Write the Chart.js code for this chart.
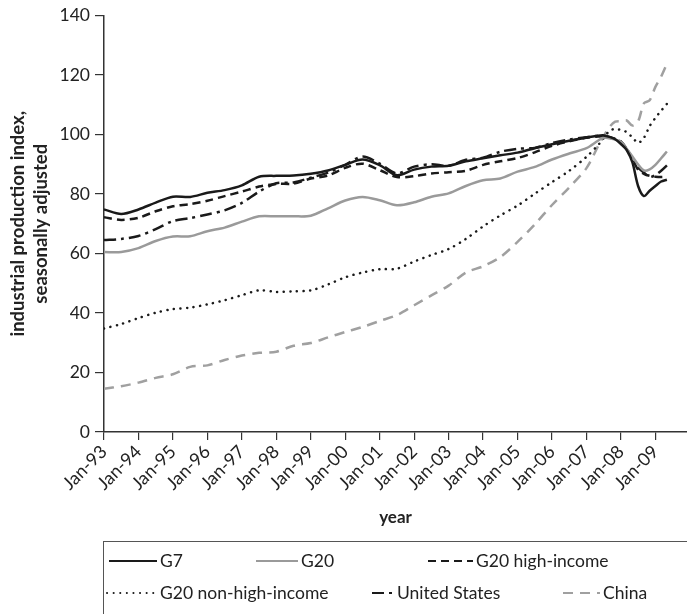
<!DOCTYPE html>
<html>
<head>
<meta charset="utf-8">
<script src="https://cdn.jsdelivr.net/npm/chart.js@4.4.1/dist/chart.umd.min.js"></script>
<style>
  body { margin: 0; background: #fff; }
  canvas { display: block; }
</style>
</head>
<body>
<canvas id="ipChart" width="687" height="614"></canvas>
<script>
// months since Jan-93
const months = [0, 6, 12, 18, 24, 30, 36, 42, 48, 54, 60, 66, 72, 78, 84, 90, 96, 102, 108, 114,
    120, 126, 132, 138, 144, 150, 156, 162, 168, 172, 174, 176, 178, 180, 182, 184, 186, 188,
    190, 192, 194, 196];

const g7 = [74.8, 73.3, 74.8, 77.1, 79.1, 79.0, 80.4, 81.3, 82.9, 85.8, 86.1, 86.2, 86.8, 87.9,
    89.8, 91.6, 89.7, 86.3, 88.2, 89.2, 89.5, 91.0, 92.0, 93.0, 93.9, 95.4, 96.7, 97.9, 99.0,
    99.6, 99.7, 99.2, 98.4, 96.8, 94.8, 90.6, 82.6, 79.3, 81.1, 82.7, 84.2, 84.8];

const g20 = [60.5, 60.5, 61.8, 64.2, 65.7, 65.8, 67.5, 68.7, 70.7, 72.5, 72.5, 72.5, 72.7, 75.2,
    77.8, 79.0, 77.9, 76.2, 77.2, 79.1, 80.2, 82.7, 84.6, 85.2, 87.5, 89.1, 91.6, 93.6, 95.4,
    97.9, 99.0, 98.7, 98.3, 97.6, 95.2, 92.6, 89.9, 87.9, 88.3, 89.8, 92.0, 94.3];

const g20HighIncome = [72.2, 71.3, 72.0, 74.2, 75.9, 76.6, 77.7, 79.3, 80.8, 82.5, 83.4, 83.5,
    85.2, 86.2, 88.8, 90.2, 88.0, 85.7, 86.0, 86.9, 87.3, 87.8, 89.8, 91.0, 92.1, 94.0, 96.2,
    97.7, 98.9, 99.3, 99.4, 99.0, 98.5, 97.7, 95.2, 91.8, 88.1, 86.8, 86.1, 85.8, 85.7, 85.8];

const g20NonHighIncome = [34.8, 36.3, 38.3, 40.1, 41.3, 41.8, 42.9, 44.3, 46.0, 47.6, 47.1, 47.3,
    47.6, 49.6, 52.0, 53.6, 54.7, 54.9, 57.3, 59.5, 61.5, 64.9, 69.1, 72.8, 76.1, 80.1, 84.0,
    87.8, 92.5, 96.4, 98.8, 101.2, 101.9, 101.5, 100.8, 99.0, 97.2, 98.9, 102.8, 105.6, 108.0, 110.3];

const unitedStates = [64.5, 64.9, 65.9, 68.2, 70.9, 71.9, 73.1, 74.5, 77.0, 80.8, 83.6, 83.9,
    85.5, 87.2, 89.8, 92.6, 90.2, 86.9, 89.2, 90.0, 89.5, 91.5, 92.2, 94.2, 95.2, 95.5, 97.1,
    98.3, 99.1, 99.6, 99.6, 99.1, 98.5, 97.5, 95.0, 92.1, 88.8, 87.2, 85.7, 86.4, 87.8, 89.6];

const china = [14.5, 15.4, 16.6, 18.2, 19.4, 21.9, 22.4, 24.2, 25.7, 26.6, 27.0, 29.0, 29.9, 31.8,
    33.6, 35.3, 37.3, 39.3, 42.6, 45.9, 49.2, 53.6, 55.7, 58.8, 63.9, 69.8, 76.3, 82.2, 88.7,
    96.0, 99.4, 102.5, 104.3, 104.5, 104.7, 103.0, 104.5, 110.5, 111.5, 116.0, 119.5, 123.8];

const xTickLabels = ['Jan-93', 'Jan-94', 'Jan-95', 'Jan-96', 'Jan-97', 'Jan-98', 'Jan-99', 'Jan-00',
    'Jan-01', 'Jan-02', 'Jan-03', 'Jan-04', 'Jan-05', 'Jan-06', 'Jan-07', 'Jan-08', 'Jan-09'];
const yTicks = [0, 20, 40, 60, 80, 100, 120, 140];

const FONT = 'Lato';
const toPoints = vals => vals.map((v, i) => ({ x: months[i], y: v }));

function series(label, vals, color, dash, cap) {
    return {
        label: label,
        data: toPoints(vals),
        borderColor: color,
        borderWidth: 2.5,
        borderDash: dash,
        borderCapStyle: cap || 'butt',
        pointRadius: 0,
        tension: 0.3,
        fill: false
    };
}

// legend sample positions: [x start, x end, row y]
const legendSlots = [
    [109, 157, 561], [256, 298, 561], [428, 473, 561],
    [107, 157, 593], [372, 394, 593], [563, 600, 593]
];

const boxLegend = {
    id: 'boxLegend',
    afterDraw(chart) {
        const ctx = chart.ctx;
        ctx.save();
        ctx.strokeStyle = '#555';
        ctx.lineWidth = 1;
        ctx.strokeRect(103.5, 541.5, 700, 120);
        chart.data.datasets.forEach((ds, i) => {
            const [x0, x1, y] = legendSlots[i];
            ctx.beginPath();
            ctx.setLineDash(ds.borderDash || []);
            ctx.lineCap = ds.borderCapStyle;
            ctx.strokeStyle = ds.borderColor;
            ctx.lineWidth = 2;
            ctx.moveTo(x0, y);
            ctx.lineTo(x1, y);
            ctx.stroke();
            ctx.setLineDash([]);
            ctx.fillStyle = '#222';
            ctx.font = '17.5px ' + FONT;
            ctx.textBaseline = 'middle';
            ctx.fillText(ds.label, x1 + 3, y);
        });
        ctx.restore();
    }
};

new Chart(document.getElementById('ipChart').getContext('2d'), {
    type: 'line',
    data: {
        datasets: [
            series('G7', g7, '#1a1a1a', []),
            series('G20', g20, '#9a9a9a', []),
            series('G20 high-income', g20HighIncome, '#1a1a1a', [8, 5]),
            series('G20 non-high-income', g20NonHighIncome, '#1a1a1a', [0.1, 6.5], 'round'),
            series('United States', unitedStates, '#1a1a1a', [12, 5, 3, 5]),
            series('China', china, '#a0a0a0', [10, 7])
        ]
    },
    options: {
        responsive: false,
        animation: false,
        layout: { padding: { top: 15, left: 0, right: 0, bottom: 84 } },
        plugins: {
            legend: { display: false },
            tooltip: { enabled: false }
        },
        scales: {
            x: {
                type: 'linear',
                min: 0,
                max: 203,
                afterBuildTicks: scale => {
                    scale.ticks = xTickLabels.map((_, i) => ({ value: i * 12 }));
                },
                afterFit: scale => { scale.height = 98; },
                ticks: {
                    autoSkip: false,
                    maxRotation: 45,
                    minRotation: 45,
                    padding: 1,
                    color: '#222',
                    font: { family: FONT, size: 18 },
                    callback: value => xTickLabels[Math.round(value / 12)]
                },
                grid: {
                    drawOnChartArea: false,
                    tickLength: 8,
                    color: '#333',
                    lineWidth: 1.2
                },
                border: { color: '#333', width: 1.5 },
                title: {
                    display: true,
                    text: 'year',
                    color: '#222',
                    font: { family: FONT, size: 17, weight: 'bold' },
                    padding: { top: 0, bottom: 2 }
                }
            },
            y: {
                min: 0,
                max: 140,
                afterBuildTicks: scale => {
                    scale.ticks = yTicks.map(v => ({ value: v }));
                },
                afterFit: scale => { scale.width = 104; },
                ticks: {
                    padding: 5,
                    color: '#222',
                    font: { family: FONT, size: 17.5 }
                },
                grid: {
                    drawOnChartArea: false,
                    tickLength: 9,
                    color: '#333',
                    lineWidth: 1.2
                },
                border: { color: '#333', width: 1.5 },
                title: {
                    display: true,
                    text: ['industrial production index,', 'seasonally adjusted'],
                    color: '#222',
                    font: { family: FONT, size: 18.5, weight: 'bold', lineHeight: 1.25 },
                    padding: { top: 6, bottom: 0 }
                }
            }
        }
    },
    plugins: [boxLegend]
});
</script>
</body>
</html>
